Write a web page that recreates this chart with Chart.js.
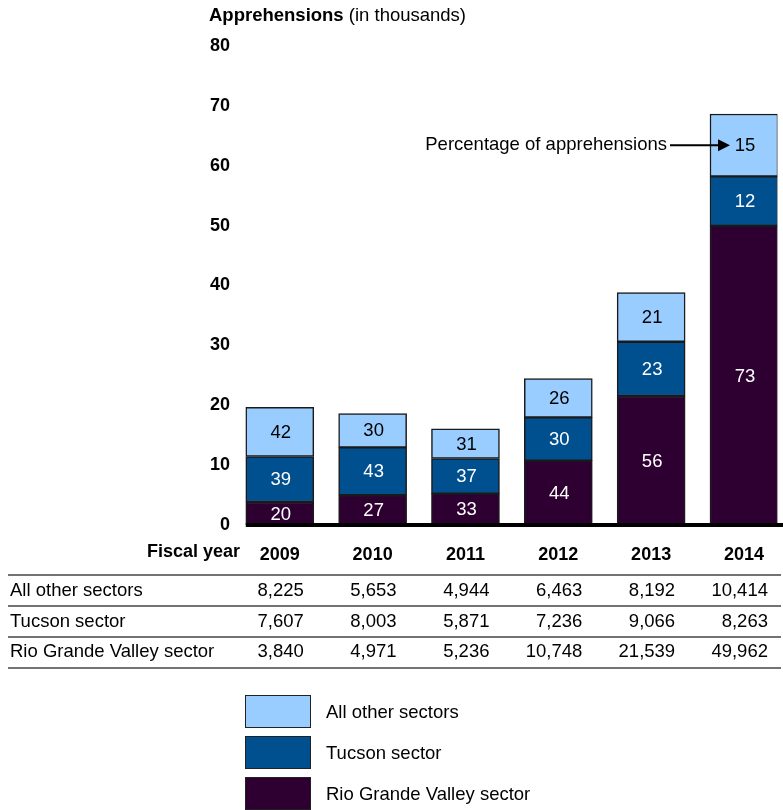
<!DOCTYPE html>
<html>
<head>
<meta charset="utf-8">
<script src="https://cdn.jsdelivr.net/npm/chart.js@4"></script>
<style>
  body { margin: 0; background: #fff; }
</style>
</head>
<body>
<canvas id="chart" width="783" height="810"></canvas>
<script>
const years = [2009, 2010, 2011, 2012, 2013, 2014];
// apprehensions, in thousands
const rioGrande = [3.840, 4.971, 5.236, 10.748, 21.539, 49.962];
const tucson = [7.607, 8.003, 5.871, 7.236, 9.066, 8.263];
const allOther = [8.225, 5.653, 4.944, 6.463, 8.192, 10.414];
// percentage of apprehensions printed inside the bars
const rioGrandePct = [20, 27, 33, 44, 56, 73];
const tucsonPct = [39, 43, 37, 30, 23, 12];
const allOtherPct = [42, 30, 31, 26, 21, 15];
const seriesNames = ['Rio Grande Valley sector', 'Tucson sector', 'All other sectors'];
const seriesColors = ['#2e0031', '#004f8f', '#99ccff'];
const yTicks = [0, 10, 20, 30, 40, 50, 60, 70, 80];

const FONT = '"Liberation Sans", Arial, sans-serif';

function fmt(v) {
  return Math.round(v * 1000).toLocaleString('en-US');
}

const extras = {
  id: 'extras',
  afterDatasetsDraw: (chart) => {
    const ctx = chart.ctx;
    const x = chart.scales.x;
    const y = chart.scales.y;
    const pcts = [rioGrandePct, tucsonPct, allOtherPct];
    ctx.save();

    // axis title
    ctx.textBaseline = 'middle';
    ctx.textAlign = 'left';
    ctx.fillStyle = '#000';
    ctx.font = 'bold 18.5px ' + FONT;
    ctx.fillText('Apprehensions', 209, 16);
    const w = ctx.measureText('Apprehensions ').width;
    ctx.font = '18.5px ' + FONT;
    ctx.fillText('(in thousands)', 209 + w, 16);

    // baseline
    const y0 = y.getPixelForValue(0);
    ctx.fillStyle = '#000';
    ctx.fillRect(x.getPixelForValue(years[0]) - 34, y0 - 2, 783, 4);

    // percentage labels in segments
    ctx.font = '18.5px ' + FONT;
    ctx.textAlign = 'center';
    chart.data.datasets.forEach((ds, di) => {
      const meta = chart.getDatasetMeta(di);
      meta.data.forEach((el, i) => {
        ctx.fillStyle = di === 2 ? '#000' : '#fff';
        ctx.fillText(String(pcts[di][i]), el.x + 1, (el.y + el.base) / 2 + 1);
      });
    });

    // annotation with arrow
    const last = chart.getDatasetMeta(2).data[years.length - 1];
    const ay = (last.y + last.base) / 2;
    const tip = last.x - 14;
    ctx.strokeStyle = '#000';
    ctx.lineWidth = 2;
    ctx.beginPath();
    ctx.moveTo(tip - 60, ay);
    ctx.lineTo(tip - 10, ay);
    ctx.stroke();
    ctx.beginPath();
    ctx.moveTo(tip, ay);
    ctx.lineTo(tip - 12, ay - 6);
    ctx.lineTo(tip - 12, ay + 6);
    ctx.closePath();
    ctx.fillStyle = '#000';
    ctx.fill();
    ctx.textAlign = 'right';
    ctx.fillText('Percentage of apprehensions', tip - 63, ay);

    // table
    ctx.font = 'bold 18px ' + FONT;
    ctx.textAlign = 'right';
    ctx.fillText('Fiscal year', 240, 552);
    const rows = [['All other sectors', allOther], ['Tucson sector', tucson], ['Rio Grande Valley sector', rioGrande]];
    const lineYs = [575, 606, 637, 668];
    ctx.strokeStyle = '#444';
    ctx.lineWidth = 1.5;
    lineYs.forEach((ly) => {
      ctx.beginPath();
      ctx.moveTo(8, ly);
      ctx.lineTo(781, ly);
      ctx.stroke();
    });
    ctx.font = '18.5px ' + FONT;
    rows.forEach((r, ri) => {
      const ry = 591 + ri * 30.5;
      ctx.textAlign = 'left';
      ctx.fillText(r[0], 10, ry);
      ctx.textAlign = 'right';
      r[1].forEach((v, i) => {
        ctx.fillText(fmt(v), x.getPixelForValue(years[i]) + 24, ry);
      });
    });

    // legend
    [2, 1, 0].forEach((di, k) => {
      const by = 695 + k * 41;
      ctx.fillStyle = seriesColors[di];
      ctx.fillRect(245, by, 65, 32);
      ctx.strokeStyle = '#222';
      ctx.lineWidth = 1;
      ctx.strokeRect(245.5, by + 0.5, 65, 32);
      ctx.fillStyle = '#000';
      ctx.textAlign = 'left';
      ctx.fillText(seriesNames[di], 326, by + 18);
    });

    ctx.restore();
  }
};

const datasets = [rioGrande, tucson, allOther].map((d, i) => ({
  label: seriesNames[i],
  data: d,
  backgroundColor: seriesColors[i],
  borderColor: '#1a1a1a',
  borderWidth: 1.5,
  borderSkipped: false,
  barThickness: 68,
}));

const chart = new Chart(document.getElementById('chart'), {
  type: 'bar',
  plugins: [extras],
  data: {
    labels: years,
    datasets: datasets,
  },
  options: {
    responsive: false,
    animation: false,
    layout: { padding: { top: 46, right: 0, left: 0, bottom: 0 } },
    plugins: {
      legend: { display: false },
      tooltip: { enabled: false },
    },
    scales: {
      x: {
        type: 'linear',
        stacked: true,
        offset: false,
        min: 2008.496,
        max: 2014.36,
        grid: { display: false, drawTicks: false },
        border: { display: false },
        afterBuildTicks: (scale) => {
          scale.ticks = years.map((v) => ({ value: v }));
        },
        afterFit: (scale) => { scale.height = 285; },
        ticks: {
          autoSkip: false,
          maxRotation: 0,
          padding: 19,
          color: '#000',
          font: { family: FONT, size: 18, weight: 'bold' },
          callback: (v) => String(v),
        },
      },
      y: {
        stacked: true,
        min: 0,
        max: 80,
        grid: { display: false, drawTicks: false },
        border: { display: false },
        afterBuildTicks: (scale) => {
          scale.ticks = yTicks.map((v) => ({ value: v }));
        },
        afterFit: (scale) => { scale.width = 233; },
        ticks: {
          padding: 3,
          color: '#000',
          font: { family: FONT, size: 18, weight: 'bold' },
        },
      },
    },
  },
});
</script>
</body>
</html>
